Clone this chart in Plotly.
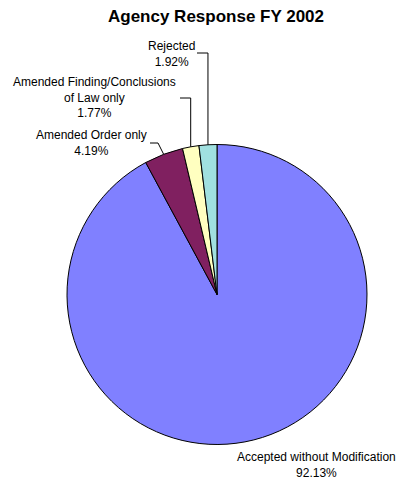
import math
import plotly.graph_objects as go

# Agency response breakdown, FY 2002 (percent of cases)
categories = [
    "Accepted without Modification",
    "Amended Order only",
    "Amended Finding/Conclusions of Law only",
    "Rejected",
]
shares = [92.13, 4.19, 1.77, 1.92]
label_lines = [
    ["Accepted without Modification"],
    ["Amended Order only"],
    ["Amended Finding/Conclusions", "of Law only"],
    ["Rejected"],
]
colors = ["#8080FF", "#802060", "#FFFFC0", "#A0E0E0"]

W, H = 396, 481
CX, CY, R = 217, 294.5, 150  # pie centre and radius in pixels


def px(x):
    return x / W


def py(y):
    return 1 - y / H


fig = go.Figure(
    go.Pie(
        labels=categories,
        values=shares,
        sort=False,
        direction="clockwise",
        rotation=0,
        textinfo="none",
        hoverinfo="label+percent",
        marker=dict(colors=colors, line=dict(color="#000000", width=1)),
        domain=dict(x=[px(CX - R), px(CX + R)], y=[py(CY + R), py(CY - R)]),
        showlegend=False,
    )
)

# Point on the rim at the middle of each slice (clockwise from 12 o'clock)
total = sum(shares)
anchors = []
cum = 0.0
for v in shares:
    mid = (cum + v / 2) / total * 2 * math.pi
    anchors.append((CX + R * math.sin(mid), CY - R * math.cos(mid)))
    cum += v

font = dict(family="Liberation Sans, Arial, sans-serif", size=12, color="#000000")

# label block centres (pixels)
label_pos = [(316, 464.5), (91, 142.5), (94, 97.5), (171, 53.5)]
annotations = []
for lines, v, (lx, ly) in zip(label_lines, shares, label_pos):
    text = "<br>".join(lines + [f"{v:.2f}%"])
    annotations.append(
        dict(
            x=px(lx), y=py(ly), xref="paper", yref="paper",
            text=text, showarrow=False, font=font,
            xanchor="center", yanchor="middle", align="center",
        )
    )

# leader lines: start of horizontal tick, elbow, then to the slice rim
leaders = {
    1: [(150, 143), (158, 143)],
    2: [(180, 98), None],
    3: [(197, 53), None],
}
shapes = []
for idx, (start, elbow) in leaders.items():
    ax, ay = anchors[idx]
    if elbow is None:
        elbow = (ax, start[1])
    pts = [start, elbow, (ax, ay)]
    for (x0, y0), (x1, y1) in zip(pts[:-1], pts[1:]):
        shapes.append(
            dict(
                type="line", xref="paper", yref="paper",
                x0=px(x0), y0=py(y0), x1=px(x1), y1=py(y1),
                line=dict(color="#000000", width=1),
            )
        )

fig.update_layout(
    width=W,
    height=H,
    margin=dict(l=0, r=0, t=0, b=0),
    paper_bgcolor="#FFFFFF",
    plot_bgcolor="#FFFFFF",
    title=dict(
        text="<b>Agency Response FY 2002</b>",
        x=px(216), y=py(16), xanchor="center", yanchor="middle",
        font=dict(family="Liberation Sans, Arial, sans-serif", size=17, color="#000000"),
    ),
    annotations=annotations,
    shapes=shapes,
)

fig.write_html("out.html")
